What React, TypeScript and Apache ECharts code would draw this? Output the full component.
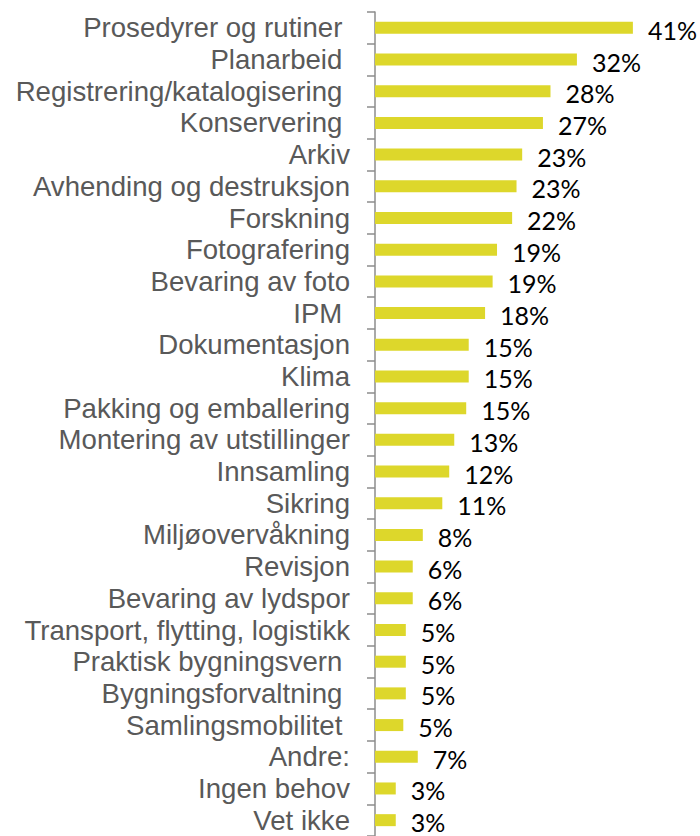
import React, { useEffect, useRef } from "react";
import * as echarts from "echarts";

const categories = [
  "Prosedyrer og rutiner ",
  "Planarbeid ",
  "Registrering/katalogisering ",
  "Konservering ",
  "Arkiv",
  "Avhending og destruksjon",
  "Forskning",
  "Fotografering",
  "Bevaring av foto",
  "IPM ",
  "Dokumentasjon",
  "Klima",
  "Pakking og emballering",
  "Montering av utstillinger",
  "Innsamling",
  "Sikring",
  "Miljøovervåkning",
  "Revisjon",
  "Bevaring av lydspor",
  "Transport, flytting, logistikk",
  "Praktisk bygningsvern ",
  "Bygningsforvaltning ",
  "Samlingsmobilitet ",
  "Andre:",
  "Ingen behov",
  "Vet ikke",
];

const values = [
  41.0, 32.1, 27.9, 26.7, 23.4, 22.5, 21.8, 19.4, 18.7, 17.5, 14.9, 14.9, 14.5,
  12.6, 11.8, 10.7, 7.6, 6.0, 6.0, 4.9, 4.9, 4.9, 4.5, 6.8, 3.3, 3.3,
];

const valueLabels = [
  "41%", "32%", "28%", "27%", "23%", "23%", "22%", "19%", "19%", "18%",
  "15%", "15%", "15%", "13%", "12%", "11%", "8%", "6%", "6%", "5%", "5%",
  "5%", "5%", "7%", "3%", "3%",
];

export default function App() {
  const ref = useRef<HTMLDivElement>(null);
  useEffect(() => {
    if (!ref.current) return;
    const chart = echarts.init(ref.current, undefined, { renderer: "svg" });
    chart.setOption({
      animation: false,
      backgroundColor: "#ffffff",
      grid: { left: 375, right: 10.5, top: 12, height: 829, containLabel: false },
      xAxis: {
        type: "value",
        min: 0,
        max: 50,
        show: false,
      },
      yAxis: {
        type: "category",
        data: categories,
        inverse: true,
        axisLine: { show: true, lineStyle: { color: "#8c8c8c", width: 1.5 } },
        axisTick: { show: true, length: 8, lineStyle: { color: "#8c8c8c", width: 1.5 } },
        axisLabel: {
          color: "#595959",
          fontFamily: "Liberation Sans, Arial, sans-serif",
          fontSize: 27.6,
          margin: 25,
          interval: 0,
        },
        splitLine: { show: false },
      },
      series: [
        {
          type: "bar",
          data: values,
          barWidth: 12,
          itemStyle: { color: "#DDD72B" },
          label: {
            show: true,
            position: "right",
            distance: 15,
            offset: [0, 2],
            color: "#000000",
            fontFamily: "Lato, Open Sans, sans-serif",
            fontSize: 25,
            formatter: (p: any) => valueLabels[p.dataIndex],
          },
        },
      ],
    });
    return () => chart.dispose();
  }, []);
  return (
    <div
      ref={ref}
      style={{ position: "fixed", left: 0, top: 0, width: 700, height: 836 }}
    />
  );
}
